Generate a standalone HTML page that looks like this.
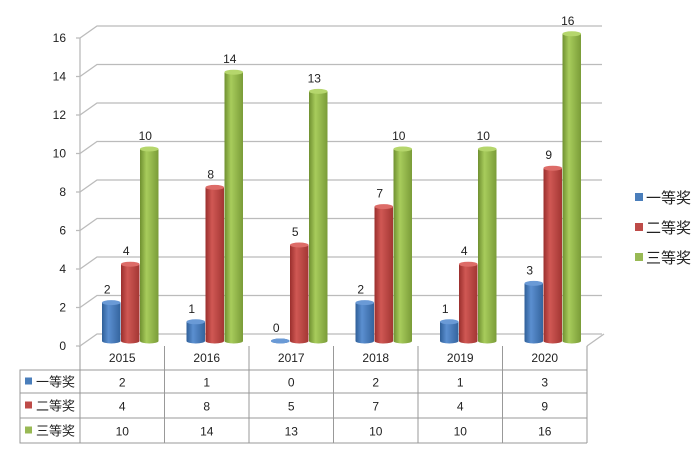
<!DOCTYPE html>
<html><head><meta charset="utf-8"><style>
body{margin:0;background:#fff;}
svg text{font-family:"Liberation Sans","Noto Sans CJK SC",sans-serif;}
</style></head><body>
<svg id="chart" width="699" height="451" viewBox="0 0 699 451" xmlns="http://www.w3.org/2000/svg">
<defs>
<linearGradient id="gb" x1="0" x2="1"><stop offset="0" stop-color="#2f5f98"/><stop offset="0.35" stop-color="#5b8fd0"/><stop offset="1" stop-color="#34649e"/></linearGradient>
<linearGradient id="gr" x1="0" x2="1"><stop offset="0" stop-color="#9a2f2d"/><stop offset="0.35" stop-color="#d05854"/><stop offset="1" stop-color="#a23633"/></linearGradient>
<linearGradient id="gg" x1="0" x2="1"><stop offset="0" stop-color="#6f9030"/><stop offset="0.35" stop-color="#a8cc5c"/><stop offset="1" stop-color="#7a9c38"/></linearGradient>
</defs>
<g id="grid"></g><g id="bars"></g><g id="table"></g><g id="legend"></g>
</svg>
<script>
const categories=["2015","2016","2017","2018","2019","2020"];
const seriesNames=["一等奖","二等奖","三等奖"];
const first=[2,1,0,2,1,3];
const second=[4,8,5,7,4,9];
const third=[10,14,13,10,10,16];
const yTicks=[0,2,4,6,8,10,12,14,16];
const NS="http://www.w3.org/2000/svg";
function mk(t,a,p){const e=document.createElementNS(NS,t);for(const k in a)e.setAttribute(k,a[k]);p.appendChild(e);return e;}
const x0=80,cw=84.5,dx=17,dy=12;
function yF(v){return 346-v*19.25;}
function yB(v){return 341-v*19.2;}
const grid=document.getElementById('grid');
yTicks.forEach(v=>{
 const y=yF(v);
 const l=mk('polyline',{points:`${x0-4},${y} ${x0},${y} ${x0+dx},${y-dy} ${x0+dx+505},${y-dy}`,fill:'none',stroke:'#bbb','stroke-width':1.3},grid);
 
 const t=mk('text',{x:x0-14,y:y+4,'text-anchor':'end','font-size':12,fill:'#222'},grid);t.textContent=v;
 
});
mk('line',{x1:x0,y1:yF(0),x2:x0,y2:yF(16),stroke:'#bbb','stroke-width':1.3},grid);
mk('polyline',{points:`${x0+6*cw},${yF(0)} ${x0+6*cw+dx},${yF(0)-dy}`,fill:'none',stroke:'#bbb','stroke-width':1.3},grid);
const bars=document.getElementById('bars');
const series=[first,second,third],grads=['url(#gb)','url(#gr)','url(#gg)'],tops=['#6a9ad6','#dd6c68','#b5d66c'];
categories.forEach((c,i)=>{
 series.forEach((s,j)=>{
  const w=18.5,bx=x0+i*cw+22+j*19,v=s[i],base=yB(0),top=yB(v);
  const g=mk('g',{},bars);
  
  mk('rect',{x:bx,y:top,width:w,height:base-top,fill:grads[j]},g);
  mk('ellipse',{cx:bx+w/2,cy:base,rx:w/2,ry:2.5,fill:grads[j]},g);
  mk('ellipse',{cx:bx+w/2,cy:top,rx:w/2,ry:2.5,fill:tops[j]},g);
  const t=mk('text',{x:bx+w/2-4,y:top-9,'text-anchor':'middle','font-size':12,fill:'#222'},g);t.textContent=v;
  
 });
});
const tb=document.getElementById('table');
const rows=[346,370,393,418,443];
mk('rect',{x:20,y:370,width:x0-20,height:73,fill:'none',stroke:'#999'},tb);
for(let i=0;i<=6;i++)mk('line',{x1:x0+i*cw,y1:346,x2:x0+i*cw,y2:443,stroke:'#999'},tb);
[370,393,418,443].forEach(y=>mk('line',{x1:20,y1:y,x2:x0+6*cw,y2:y,stroke:'#999'},tb));
categories.forEach((c,i)=>{const t=mk('text',{x:x0+i*cw+cw/2,y:362,'text-anchor':'middle','font-size':12,fill:'#222'},tb);t.textContent=c;
 });
const cols=['#4a7ebb','#be4b48','#98b954'];
series.forEach((s,j)=>{
 const cy=(rows[j+1]+rows[j+2])/2;
 mk('rect',{x:25,y:cy-4,width:7,height:7,fill:cols[j]},tb);
 const n=mk('text',{x:36,y:cy+5,'font-size':13,fill:'#222'},tb);n.textContent=seriesNames[j];
 
 s.forEach((v,i)=>{const t=mk('text',{x:x0+i*cw+cw/2,y:cy+5,'text-anchor':'middle','font-size':12,fill:'#222'},tb);t.textContent=v;
  });
});
const lg=document.getElementById('legend');
seriesNames.forEach((n,j)=>{
 const cy=197+j*30;
 const g=mk('g',{},lg);
 
 mk('rect',{x:635,y:cy-4,width:8,height:8,fill:cols[j]},g);
 const t=mk('text',{x:646,y:cy+6,'font-size':15,fill:'#222'},g);t.textContent=n;
});
</script>
</body></html>
